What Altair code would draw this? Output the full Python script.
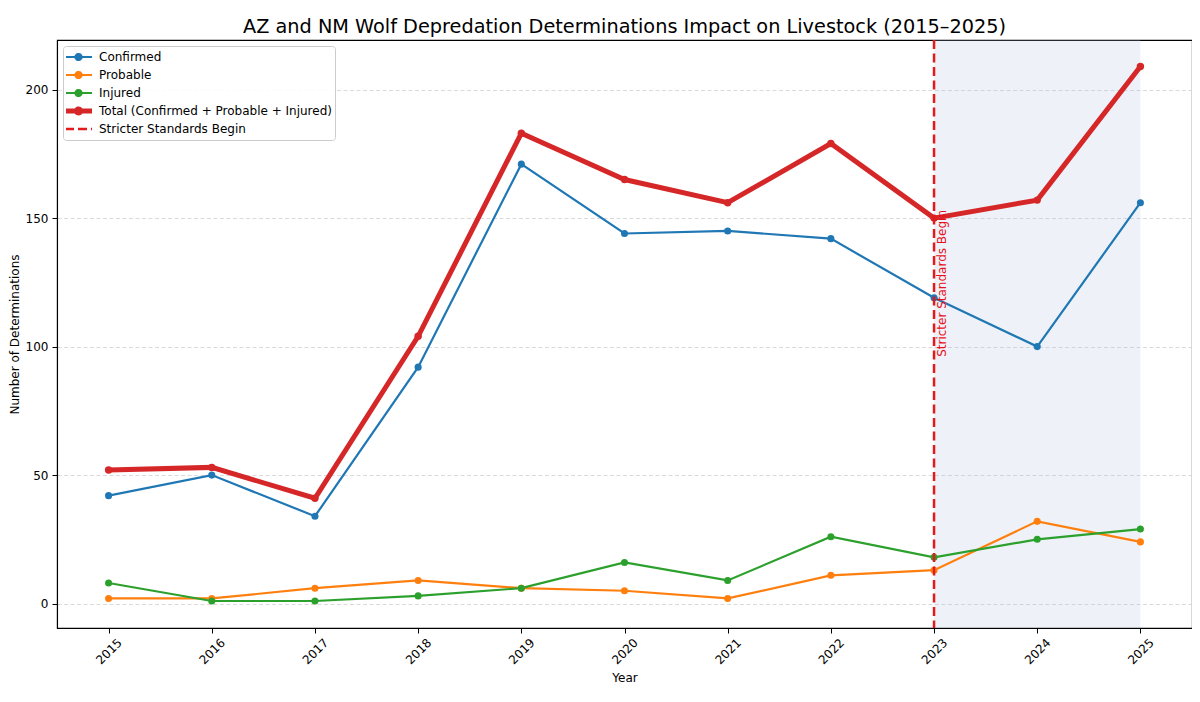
import altair as alt
import pandas as pd

years = list(range(2015, 2026))
confirmed = [42, 50, 34, 92, 171, 144, 145, 142, 119, 100, 156]
probable = [2, 2, 6, 9, 6, 5, 2, 11, 13, 32, 24]
injured = [8, 1, 1, 3, 6, 16, 9, 26, 18, 25, 29]
total = [52, 53, 41, 104, 183, 165, 156, 179, 150, 157, 209]

series_names = ["Confirmed", "Probable", "Injured", "Total (Confirmed + Probable + Injured)"]
rule_name = "Stricter Standards Begin"
colors = ["#1f77b4", "#ff7f0e", "#2ca02c", "#d62728", "#e31a1c"]
standards_year = 2023
shade_end = 2025
annot_value = 96

rows = []
for name, vals in zip(series_names, [confirmed, probable, injured, total]):
    for yr, v in zip(years, vals):
        rows.append({"series": name, "year": yr, "value": v})
df = pd.DataFrame(rows)
thin_df = df[df.series != series_names[3]]
total_df = df[df.series == series_names[3]]

FONT = "DejaVu Sans"
FS = 12
W, H = 1135, 588

color_scale = alt.Scale(domain=series_names + [rule_name], range=colors)
x_scale = alt.Scale(domain=[2014.5, 2025.5], nice=False, zero=False)
y_scale = alt.Scale(domain=[-9.5, 219.3], nice=False, zero=False)

is_rule = f"datum.value === '{rule_name}'"
is_total = f"datum.value === '{series_names[3]}'"
line_path = "M-1,0H2.86"
thin_path = "M-1,0H2.86M1.36,0A0.43,0.43,0,1,1,0.5,0A0.43,0.43,0,1,1,1.36,0Z"
total_path = "M-1,0H2.86M1.22,0A0.29,0.29,0,1,1,0.64,0A0.29,0.29,0,1,1,1.22,0Z"

legend = alt.Legend(
    title=None,
    orient="none",
    legendX=6,
    legendY=6,
    padding=3,
    rowPadding=2,
    clipHeight=16,
    labelOffset=21,
    labelLimit=0,
    symbolSize=196,
    labelFont=FONT,
    labelFontSize=FS,
    labelColor="#000000",
    fillColor="rgba(255,255,255,0.85)",
    strokeColor="#cccccc",
    cornerRadius=3,
    symbolType=alt.ExprRef(
        expr=f"{is_rule} ? '{line_path}' : ({is_total} ? '{total_path}' : '{thin_path}')"
    ),
    symbolStrokeWidth=alt.ExprRef(expr=f"{is_total} ? 5 : ({is_rule} ? 2.5 : 2.2)"),
    symbolDash=alt.ExprRef(expr=f"{is_rule} ? [9, 4] : [1, 0]"),
    symbolFillColor=alt.ExprRef(expr="scale('color', datum.value)"),
    symbolOpacity=1,
)

x_enc = alt.X(
    "year:Q",
    scale=x_scale,
    axis=alt.Axis(
        values=years, format="d", title="Year", grid=False,
        labelAngle=-45, labelAlign="center", labelBaseline="middle",
        labelPadding=18, tickSize=5,
    ),
)
y_enc = alt.Y(
    "value:Q",
    scale=y_scale,
    axis=alt.Axis(
        values=[0, 50, 100, 150, 200], title="Number of Determinations",
        grid=True, tickSize=5, labelPadding=4,
    ),
)

shade = alt.Chart(pd.DataFrame({"start": [standards_year], "end": [shade_end]})).mark_rect(
    color="#b0c4de", opacity=0.22
).encode(
    x=alt.X("start:Q", scale=x_scale),
    x2="end:Q",
)

thin_lines = alt.Chart(thin_df).mark_line(strokeWidth=2.2).encode(
    x=x_enc, y=y_enc,
    color=alt.Color("series:N", scale=color_scale, legend=legend, sort=series_names + [rule_name]),
)
thin_pts = alt.Chart(thin_df).mark_circle(size=50, opacity=1).encode(
    x="year:Q", y="value:Q",
    color=alt.Color("series:N", scale=color_scale, legend=None),
)
total_line = alt.Chart(total_df).mark_line(strokeWidth=5).encode(
    x="year:Q", y="value:Q",
    color=alt.Color("series:N", scale=color_scale, legend=None),
)
total_pts = alt.Chart(total_df).mark_circle(size=55, opacity=1).encode(
    x="year:Q", y="value:Q",
    color=alt.Color("series:N", scale=color_scale, legend=None),
)

rule = alt.Chart(pd.DataFrame({"year": [standards_year], "series": [rule_name]})).mark_rule(
    strokeWidth=2.5, strokeDash=[9, 4.5]
).encode(
    x="year:Q",
    color=alt.Color("series:N", scale=color_scale, legend=None),
)

annot = alt.Chart(pd.DataFrame({"year": [standards_year], "value": [annot_value], "label": [rule_name]})).mark_text(
    angle=270, align="left", baseline="top", dy=3, font=FONT, fontSize=FS, color="#e8101a"
).encode(
    x="year:Q", y="value:Q", text="label:N",
)

chart = alt.layer(shade, thin_lines, thin_pts, total_line, total_pts, rule, annot).properties(
    width=W,
    height=H,
    title=alt.TitleParams(
        "AZ and NM Wolf Depredation Determinations Impact on Livestock (2015\u20132025)",
        font=FONT, fontSize=19.3, fontWeight="normal", color="#000000", offset=1,
    ),
    autosize=alt.AutoSizeParams(type="none"),
    padding={"left": 49, "top": 32, "right": 0, "bottom": 66},
).configure_view(
    stroke="#000000", strokeWidth=1.1
).configure_axis(
    labelFont=FONT, labelFontSize=FS, labelColor="#000000",
    titleFont=FONT, titleFontSize=FS, titleFontWeight="normal", titleColor="#000000",
    tickColor="#000000", domainColor="#000000", domainWidth=1.1, tickWidth=1,
    gridColor="#d0d0d0", gridDash=[4, 2.5], gridWidth=0.8,
).configure_axisX(
    titleY=49, titleBaseline="middle",
).configure_axisY(
    titleX=-43, titleBaseline="middle",
)

chart.save("out.html", embed_options={"renderer": "svg", "actions": False})
